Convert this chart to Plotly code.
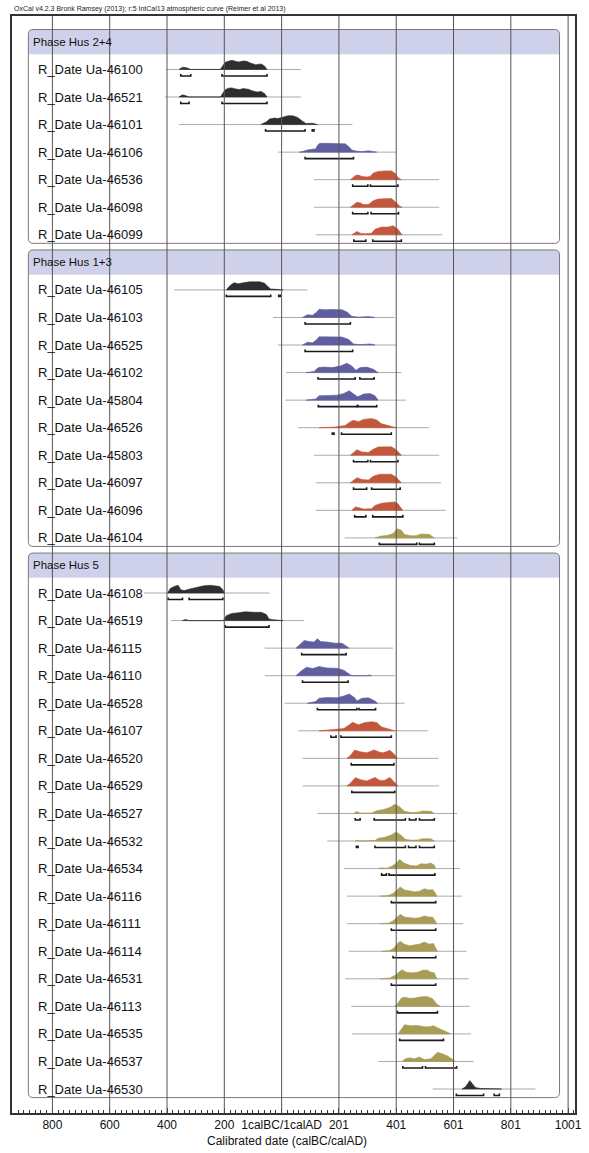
import plotly.graph_objects as go

# ---- data read from the OxCal multiplot ----
PHASE_NAMES = ["Phase Hus 2+4", "Phase Hus 1+3", "Phase Hus 5"]
PHASE_SIZES = [7, 10, 19]

DATE_LABELS = [
    "R_Date Ua-46100", "R_Date Ua-46521", "R_Date Ua-46101", "R_Date Ua-46106",
    "R_Date Ua-46536", "R_Date Ua-46098", "R_Date Ua-46099",
    "R_Date Ua-46105", "R_Date Ua-46103", "R_Date Ua-46525", "R_Date Ua-46102",
    "R_Date Ua-45804", "R_Date Ua-46526", "R_Date Ua-45803", "R_Date Ua-46097",
    "R_Date Ua-46096", "R_Date Ua-46104",
    "R_Date Ua-46108", "R_Date Ua-46519", "R_Date Ua-46115", "R_Date Ua-46110",
    "R_Date Ua-46528", "R_Date Ua-46107", "R_Date Ua-46520", "R_Date Ua-46529",
    "R_Date Ua-46527", "R_Date Ua-46532", "R_Date Ua-46534", "R_Date Ua-46116",
    "R_Date Ua-46111", "R_Date Ua-46114", "R_Date Ua-46531", "R_Date Ua-46113",
    "R_Date Ua-46535", "R_Date Ua-46537", "R_Date Ua-46530",
]
DATE_GROUPS = [
    "k", "k", "k", "p", "r", "r", "r",
    "k", "p", "p", "p", "p", "r", "r", "r", "r", "o",
    "k", "k", "p", "p", "p", "r", "r", "r", "o", "o", "o", "o",
    "o", "o", "o", "o", "o", "o", "k",
]

BASE_FROM = [-403, -406, -357, -12, 114, 114, 120,
             -374, -29, -12, 17, 14, 59, 114, 120, 120, 221,
             -480, -385, -58, -58, 11, 59, 74, 74, 126, 160, 218, 229,
             229, 235, 223, 244, 246, 338, 528]
BASE_TO = [68, 68, 248, 401, 551, 551, 562,
           91, 396, 401, 419, 436, 516, 551, 557, 574, 614,
           -41, 80, 390, 396, 430, 511, 548, 551, 614, 608, 625, 631,
           635, 646, 654, 658, 662, 671, 887]

PROFILE_YEARS = [
    [-357, -345, -330, -316, -213, -204, -196, -185, -173, -160, -150, -133, -121, -110, -90, -70, -58, -50],
    [-357, -345, -333, -322, -213, -204, -196, -185, -173, -158, -145, -133, -115, -100, -85, -70, -58, -50],
    [-70, -52, -41, -24, -12, 6, 23, 40, 57, 74, 86, 109, 126],
    [63, 74, 91, 109, 120, 126, 134, 160, 200, 223, 235, 246, 264, 281, 304, 321, 333],
    [241, 252, 260, 269, 281, 298, 310, 321, 338, 361, 384, 396, 407, 419],
    [241, 252, 264, 275, 287, 304, 321, 338, 361, 384, 398, 413, 421],
    [246, 256, 264, 275, 292, 315, 327, 350, 373, 390, 407, 421],
    [-192, -179, -165, -150, -133, -110, -75, -58, -47, -37, -18, -6, 6],
    [74, 91, 109, 122, 132, 155, 177, 212, 229, 246, 269, 304, 327],
    [74, 91, 109, 122, 132, 160, 212, 235, 252, 275, 310, 327],
    [86, 114, 129, 149, 177, 206, 229, 246, 260, 275, 298, 321, 338],
    [86, 120, 132, 160, 195, 218, 237, 256, 267, 287, 310, 327, 338],
    [132, 189, 223, 241, 252, 269, 287, 315, 333, 350, 373, 390, 401],
    [241, 252, 264, 281, 304, 321, 338, 384, 401, 419],
    [241, 252, 264, 281, 304, 321, 344, 384, 401, 419],
    [246, 258, 269, 287, 315, 327, 350, 379, 396, 407, 424],
    [327, 344, 373, 390, 404, 419, 430, 453, 470, 488, 516, 534],
    [-397, -388, -374, -360, -351, -339, -322, -294, -271, -248, -230, -215, -204, -199],
    [-345, -334, -322, -202, -192, -173, -150, -127, -92, -70, -52, -43, -29, -6, 6],
    [51, 65, 80, 97, 114, 126, 137, 160, 189, 212, 223, 237],
    [51, 68, 88, 109, 132, 160, 195, 218, 237, 246, 298, 306, 315],
    [91, 120, 132, 160, 195, 218, 237, 256, 264, 281, 304, 327, 336],
    [132, 177, 218, 235, 249, 269, 292, 315, 333, 350, 373, 387, 396],
    [229, 241, 256, 275, 298, 324, 344, 356, 379, 393, 405],
    [229, 241, 258, 278, 298, 327, 344, 359, 379, 396, 407],
    [252, 264, 275, 315, 333, 356, 379, 396, 413, 430, 453, 476, 493, 522, 534],
    [258, 264, 275, 327, 338, 361, 384, 401, 419, 433, 453, 476, 493, 522, 534],
    [338, 350, 367, 384, 402, 413, 428, 448, 470, 488, 505, 522, 534, 539],
    [344, 373, 390, 405, 415, 430, 448, 465, 482, 499, 516, 528, 536, 543],
    [344, 373, 390, 405, 415, 430, 448, 465, 482, 499, 516, 528, 536, 543],
    [350, 379, 393, 405, 415, 428, 448, 467, 482, 499, 516, 531, 539, 545],
    [344, 379, 396, 409, 421, 436, 453, 476, 493, 508, 522, 534, 539, 545],
    [396, 407, 419, 430, 448, 465, 488, 508, 528, 543, 554],
    [407, 419, 430, 453, 476, 499, 516, 531, 545, 562, 580, 591],
    [421, 433, 448, 465, 482, 499, 522, 536, 545, 562, 580, 597, 608],
    [631, 643, 651, 658, 666, 677, 694, 717, 740, 758, 769],
]
PROFILE_HEIGHTS = [
    [0, 2, 1.5, 0, 0, 3, 6.5, 7.5, 8.3, 7.5, 6.8, 7.7, 7.5, 6, 4.3, 5, 3, 0],
    [0, 2, 1.2, 0, 0, 3.5, 6.5, 8, 8.3, 7.2, 6.8, 7.7, 7, 5.5, 4.5, 5, 3, 0],
    [0.3, 2.5, 5, 6, 5.5, 7, 8, 8, 6.5, 3, 1, 1.2, 0],
    [0, 0.5, 2, 2.5, 3, 6, 8, 8, 8, 7.5, 5, 2, 0.8, 0.5, 1.2, 0.5, 0],
    [0, 2, 4, 4.2, 3, 2.5, 3, 6, 7.5, 8, 8, 6, 2, 0],
    [0, 2, 4.5, 4, 2.5, 2.5, 6, 7.5, 8, 8, 5, 1, 0],
    [0, 2, 3, 1.5, 1, 1.5, 5, 7, 7, 8.3, 5, 0],
    [0, 4, 6.5, 5.5, 6.5, 7.3, 7.3, 6, 3, 0.8, 0.5, 0.5, 0],
    [0, 2.5, 2, 4.5, 7.5, 7, 7.3, 7, 5, 1, 0.3, 0.8, 0],
    [0, 2.5, 2, 4.5, 7.5, 7.3, 7.3, 5, 1, 0.3, 1, 0],
    [0, 1, 4.5, 5, 4.5, 6, 8.5, 6, 2, 4.5, 5, 3, 0],
    [0, 1, 4, 4.5, 4.5, 6, 8.5, 5, 3, 5.5, 6, 4, 0],
    [0, 0.6, 2, 5.5, 6.7, 5.5, 7.5, 8.3, 7, 3.5, 2, 1, 0],
    [0, 2.5, 5, 3, 2.5, 5.5, 7.5, 7.7, 5, 0],
    [0, 2.5, 4.7, 3, 2.5, 6, 7.8, 7.8, 5, 0],
    [0, 3, 2.5, 1.2, 1.5, 4.5, 6.5, 7, 7.7, 6, 0],
    [0, 1.5, 2.5, 4, 8.3, 7, 3, 2, 2, 3.5, 3.3, 0],
    [0, 4, 6, 7, 3, 2.2, 3.5, 5.5, 6.5, 7, 6.5, 6, 3, 0],
    [0, 1, 0, 0, 4.5, 6.5, 7, 8, 7.5, 7.5, 5.5, 1.5, 0.8, 0.5, 0],
    [0, 3, 7, 6, 5.5, 8.5, 6, 5.5, 4.5, 4.5, 2.5, 0],
    [0, 4, 7.7, 6.5, 8.3, 7, 6.7, 5, 1.5, 0, 0, 0.7, 0],
    [0, 1.5, 4.5, 5.3, 5, 6.5, 8.5, 5, 2, 4.5, 5, 2, 0],
    [0, 0.7, 2, 5, 7.7, 5.5, 7.5, 8.3, 7.5, 3.5, 1.8, 0.8, 0],
    [0, 2.5, 7.5, 6, 5, 7.7, 5.5, 5, 7.3, 4, 0],
    [0, 2.5, 7.5, 5.5, 4.5, 7.7, 5, 5, 7.7, 3, 0],
    [0, 1.7, 0.3, 0.5, 2.5, 3.5, 5.5, 8.3, 6, 2, 0.8, 1, 2.3, 2, 0],
    [0, 0.8, 0, 0.5, 2.5, 3.5, 5.5, 8.3, 5, 1.5, 0.8, 1, 2, 2, 0],
    [0, 0.7, 0.3, 2, 5, 8.3, 5, 3, 2.3, 4.5, 4, 5, 3, 0],
    [0, 0.5, 2.5, 6, 8.3, 5.5, 5, 4, 4.5, 6.7, 5.5, 6, 3.5, 0],
    [0, 0.5, 2.5, 6, 8.5, 6, 5.5, 5, 5.5, 7, 6, 6, 3, 0],
    [0, 0.5, 3, 7, 9, 6.5, 5, 5.5, 6.5, 8.3, 6.5, 7, 3, 0],
    [0, 0.8, 3, 6, 8.3, 6, 5.5, 6, 7.7, 8, 6, 5.5, 2, 0],
    [0, 3, 7.5, 8.3, 7.3, 7.5, 8.7, 9, 7, 2, 0],
    [0, 4, 8.3, 7.5, 7.7, 6.5, 6.5, 7.5, 5.5, 3.5, 1.5, 0],
    [0, 2.5, 3.3, 2.5, 4, 1.7, 2.5, 6, 8.3, 7, 5, 2, 0],
    [0, 2, 5, 7.7, 5, 1.5, 0.5, 0.2, 0.4, 0.3, 0],
]
RANGES = [
    [(-351, -316), (-207, -50)],
    [(-351, -322), (-207, -50)],
    [(-55, 83), (108, 114)],
    [(83, 252)],
    [(249, 302), (311, 407)],
    [(249, 302), (313, 409)],
    [(253, 295), (319, 419)],
    [(-192, -37), (-9, -3)],
    [(83, 241)],
    [(83, 249)],
    [(128, 258), (274, 324)],
    [(129, 265), (267, 333)],
    [(178, 184), (210, 384)],
    [(252, 302), (311, 407)],
    [(252, 298), (315, 415)],
    [(256, 295), (319, 424)],
    [(342, 473), (482, 534)],
    [(-395, -345), (-322, -204)],
    [(-196, -43)],
    [(71, 226)],
    [(74, 233)],
    [(126, 264), (271, 329)],
    [(173, 191), (208, 384)],
    [(244, 393)],
    [(246, 396)],
    [(258, 275), (324, 433), (447, 470), (482, 534)],
    [(262, 268), (327, 433), (444, 470), (482, 534)],
    [(350, 367), (376, 536)],
    [(384, 539)],
    [(384, 539)],
    [(390, 539)],
    [(384, 539)],
    [(405, 545)],
    [(413, 566)],
    [(424, 493), (503, 612)],
    [(611, 706), (743, 761)],
]

TICK_VALS = [-799, -599, -399, -199, 1, 201, 401, 601, 801, 1001]
TICK_TEXT = ["800", "600", "400", "200", "1calBC/1calAD", "201", "401", "601", "801", "1001"]

TITLE = "OxCal v4.2.3 Bronk Ramsey (2013); r:5 IntCal13 atmospheric curve (Reimer et al 2013)"
X_TITLE = "Calibrated date (calBC/calAD)"

# ---- styling ----
FONT = "Liberation Sans, Arial, Helvetica, sans-serif"
GROUP_COLOURS = {"k": "#2e2e2e", "p": "#615e9f", "r": "#c2573b", "o": "#a89c57"}
BAND_COLOUR = "#cfd0ea"
PX_PER_SLOT = 27.55      # vertical pixels per row
PX_PER_YEAR = 0.2902     # horizontal pixels per year
HEIGHT_SCALE = 1.1
X_RANGE = [-940, 1025]
Y_RANGE = [38.87, -0.94]
BOX_X0, BOX_X1 = -883, 971


def h2slot(px):
    return px / PX_PER_SLOT


fig = go.Figure()
annotations = []
shapes = []

# slot positions: phase header takes a slot, then its rows
row_slots = []
phase_slots = []
slot = 0
for name, n in zip(PHASE_NAMES, PHASE_SIZES):
    phase_slots.append(slot)
    slot += 1
    for _ in range(n):
        row_slots.append(slot)
        slot += 1

# phase boxes
rx = 5 / PX_PER_YEAR
ry = h2slot(5)
start = 0
for i, (name, n) in enumerate(zip(PHASE_NAMES, PHASE_SIZES)):
    hs = phase_slots[i]
    top = hs - 0.45
    band_bot = hs + 0.45
    bot = row_slots[start + n - 1] + 0.31
    start += n
    x0, x1 = BOX_X0, BOX_X1
    band = (f"M {x0},{band_bot} L {x0},{top + ry} Q {x0},{top} {x0 + rx},{top} "
            f"L {x1 - rx},{top} Q {x1},{top} {x1},{top + ry} L {x1},{band_bot} Z")
    shapes.append(dict(type="path", path=band, xref="x", yref="y", fillcolor=BAND_COLOUR,
                       line=dict(width=0), layer="below"))
    box = (f"M {x0 + rx},{top} L {x1 - rx},{top} Q {x1},{top} {x1},{top + ry} "
           f"L {x1},{bot - ry} Q {x1},{bot} {x1 - rx},{bot} L {x0 + rx},{bot} "
           f"Q {x0},{bot} {x0},{bot - ry} L {x0},{top + ry} Q {x0},{top} {x0 + rx},{top} Z")
    shapes.append(dict(type="path", path=box, xref="x", yref="y",
                       line=dict(color="#7a7a7a", width=1), layer="below"))
    annotations.append(dict(text=name, xref="paper", x=0, xshift=19, xanchor="left",
                            yref="y", y=hs, yanchor="middle", showarrow=False,
                            font=dict(size=11.5, color="#111", family=FONT)))

# rows
for i, label in enumerate(DATE_LABELS):
    s = row_slots[i]
    col = GROUP_COLOURS[DATE_GROUPS[i]]
    fig.add_trace(go.Scatter(x=[BASE_FROM[i], BASE_TO[i]], y=[s, s], mode="lines",
                             line=dict(color="#ababab", width=1), hoverinfo="skip"))
    xs = PROFILE_YEARS[i]
    ys = [s - h2slot(h * HEIGHT_SCALE) for h in PROFILE_HEIGHTS[i]]
    fig.add_trace(go.Scatter(x=xs + [xs[-1], xs[0]], y=ys + [s, s], mode="lines",
                             fill="toself", fillcolor=col, line=dict(color=col, width=0.6),
                             hoverinfo="skip"))
    by = s + h2slot(6.5)
    up = h2slot(2)
    bx, byy = [], []
    for a, b in RANGES[i]:
        bx += [a, a, b, b, None]
        byy += [by - up, by, by, by - up, None]
    fig.add_trace(go.Scatter(x=bx, y=byy, mode="lines",
                             line=dict(color="#1a1a1a", width=1.6), hoverinfo="skip"))
    annotations.append(dict(text=label, xref="paper", x=0, xshift=24, xanchor="left",
                            yref="y", y=s, yanchor="middle", showarrow=False,
                            font=dict(size=13, color="#111", family=FONT)))

# vertical gridlines on top
for v in TICK_VALS:
    shapes.append(dict(type="line", x0=v, x1=v, xref="x", yref="paper", y0=0, y1=1,
                       line=dict(color="#555", width=1), layer="above"))

annotations.append(dict(text=TITLE, xref="paper", x=0, xanchor="left", yref="paper", y=1,
                        yshift=7, yanchor="middle", showarrow=False,
                        font=dict(size=7, color="#222", family=FONT)))
annotations.append(dict(text=X_TITLE, xref="paper", x=0.488, xanchor="center", yref="paper",
                        y=0, yshift=-28, yanchor="middle", showarrow=False,
                        font=dict(size=12, color="#111", family=FONT)))

fig.update_layout(
    width=589, height=1153,
    margin=dict(l=12, r=7, t=16, b=40),
    plot_bgcolor="white", paper_bgcolor="white",
    showlegend=False,
    shapes=shapes, annotations=annotations,
    xaxis=dict(range=X_RANGE, tickvals=TICK_VALS, ticktext=TICK_TEXT,
               ticks="inside", ticklen=5, tickcolor="#333", showgrid=False, zeroline=False,
               showline=True, linecolor="#333", linewidth=1.5, mirror=True,
               tickfont=dict(size=12, color="#111", family=FONT),
               minor=dict(ticks="inside", ticklen=3, tick0=-799, dtick=20,
                          tickcolor="#333", showgrid=False)),
    yaxis=dict(range=Y_RANGE, showticklabels=False, ticks="", showgrid=False,
               zeroline=False, showline=True, linecolor="#333", linewidth=1.5, mirror=True),
)

# the page body has a default 8px margin; drop it so the figure fills the window
fig.write_html("out.html", config={"displayModeBar": False},
               post_script="document.body.style.margin='0';")
